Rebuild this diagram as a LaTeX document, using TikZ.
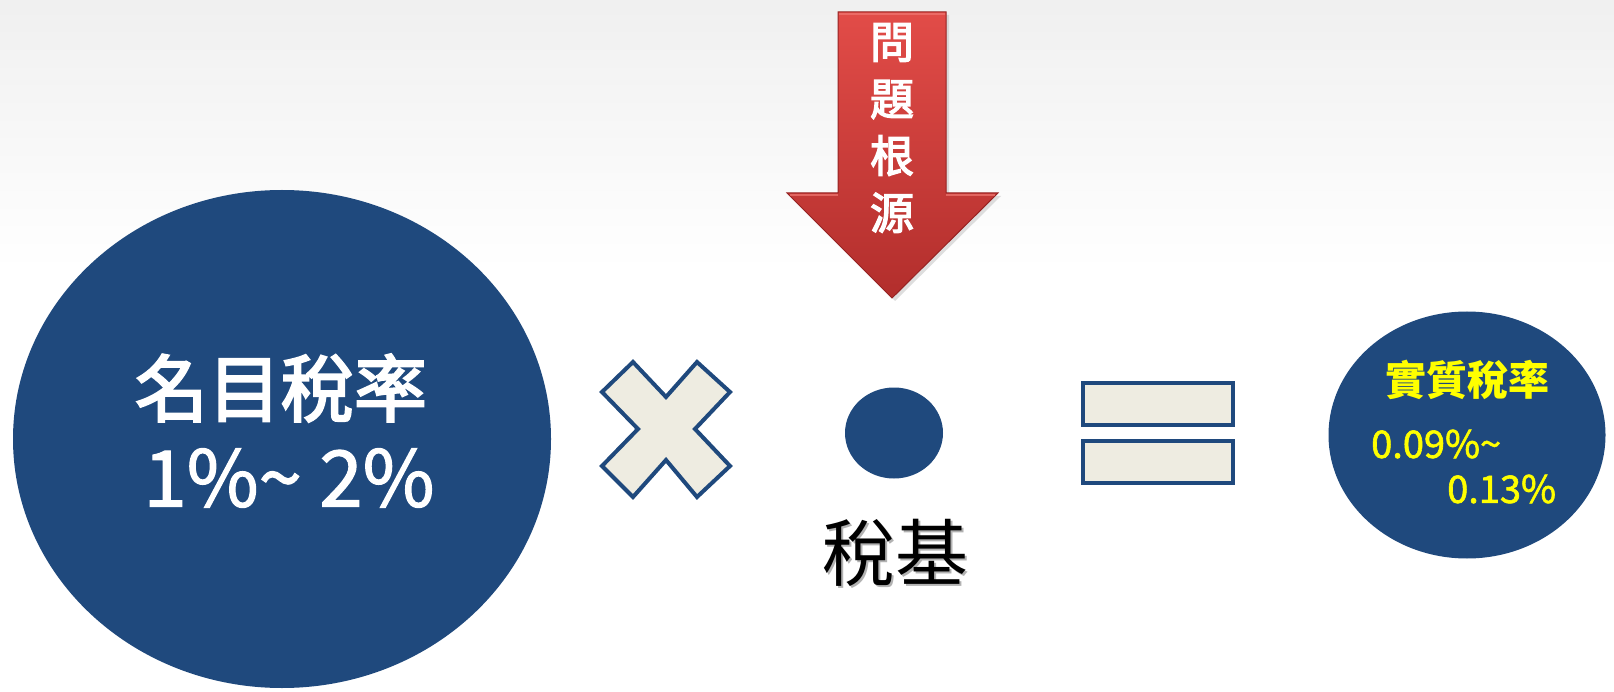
\documentclass[tikz,border=0pt]{standalone}
\usepackage{fontspec}
\setmainfont{Noto Sans CJK TC}
\newfontfamily\medfont[FakeBold=1.6]{Noto Sans CJK TC}
\newfontfamily\semifont[FakeBold=3]{Noto Sans CJK TC}
\usetikzlibrary{shapes.geometric}
\definecolor{navy}{RGB}{31,73,125}
\definecolor{cream}{RGB}{238,236,225}
\definecolor{redtop}{RGB}{226,76,72}
\definecolor{redbot}{RGB}{178,46,44}
\definecolor{rededge}{RGB}{150,35,35}
\definecolor{redlight}{RGB}{240,120,115}
\definecolor{yel}{RGB}{255,255,0}
\tikzset{
  blob/.style={ellipse, fill=navy, draw=none, inner sep=0pt},
  bar/.style={draw=navy, line width=4pt, fill=cream},
  whitebig/.style={text=white, inner sep=0pt},
  yeltext/.style={text=yel, inner sep=0pt},
}
\begin{document}
\begin{tikzpicture}[x=1pt,y=-1pt]
\useasboundingbox (0,0) rectangle (1614,692);
% background
\fill[white] (0,0) rectangle (1614,692);
\shade[top color=black!6, bottom color=white] (0,0) rectangle (1614,270);

% left circle
\node[blob, minimum width=538pt, minimum height=498pt] (rate) at (282,439) {};
\node[whitebig, font=\fontsize{73}{80}\semifont] (ratelbl) at (281,388) {名目稅率};
\node[whitebig, font=\fontsize{78}{84}\medfont] (ratenum) at (289,478) {1\%\textasciitilde{} 2\%};

% cross
\draw[navy, line width=4pt, fill=cream, line join=miter]
  (666,397) -- (633,362) -- (602,392) -- (638,429) -- (602,466) -- (633,497)
  -- (666,460) -- (697,497) -- (730,466) -- (695,429) -- (730,392) -- (697,362) -- cycle;

% dot
\node[blob, minimum width=98pt, minimum height=91pt] (base) at (894,433) {};
\node[inner sep=0pt, font=\fontsize{73}{80}\selectfont, text=black!30] (baseshadow) at (897,555) {稅基};
\node[inner sep=0pt, font=\fontsize{73}{80}\selectfont, text=black] (baselbl) at (895,553) {稅基};

% arrow
\fill[black!25, opacity=0.5] (841,15) -- (949,15) -- (949,196) -- (1001,196) -- (895,301) -- (790,196) -- (841,196) -- cycle;
\shade[top color=redtop, bottom color=redbot, draw=rededge, line width=1pt]
  (838,12) -- (946,12) -- (946,193) -- (998,193) -- (892,298) -- (787,193) -- (838,193) -- cycle;
\draw[redlight, line width=2pt, opacity=0.7] (839,14) -- (945,14);
\draw[redlight, line width=2pt, opacity=0.7] (790,195) -- (838,195);
\draw[redlight, line width=2pt, opacity=0.7] (946,195) -- (995,195);
\node[text=white, inner sep=0pt, align=center, font=\fontsize{44}{57}\semifont] (root) at (892,128) {問\\題\\根\\源};

% equals
\node[bar, minimum width=150pt, minimum height=42pt, inner sep=0pt] (eq1) at (1158,404) {};
\node[bar, minimum width=150pt, minimum height=42pt, inner sep=0pt] (eq2) at (1158,462) {};

% right ellipse
\node[blob, minimum width=277pt, minimum height=247pt] (eff) at (1467,435) {};
\node[yeltext, font=\fontsize{41}{46}\selectfont\bfseries] (efflbl) at (1467,380) {實質稅率};
\node[yeltext, anchor=west, font=\fontsize{38}{46}\medfont] (effa) at (1371,444) {0.09\%\textasciitilde};
\node[yeltext, anchor=west, font=\fontsize{38}{46}\medfont] (effb) at (1447,489) {0.13\%};
\end{tikzpicture}
\end{document}
